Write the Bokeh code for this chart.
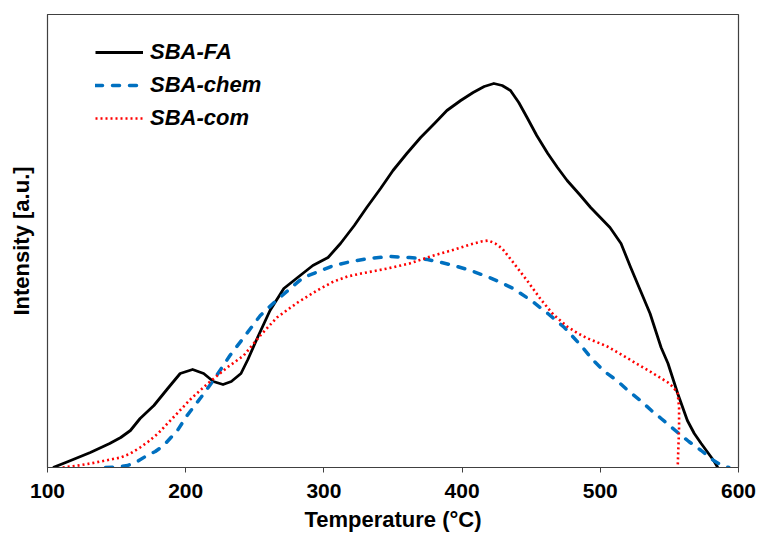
from bokeh.plotting import figure
from bokeh.models import Range1d, FixedTicker, Legend, LegendItem
from bokeh.embed import file_html
from bokeh.resources import INLINE

# SBA-FA (black solid)
fa_t = [104, 115, 131, 145, 153, 160, 167, 177, 187, 196, 205, 213, 220, 227, 233, 240, 245, 252, 261, 271,
        281, 292, 303, 312, 322, 331, 341, 350, 360, 370, 380, 389, 399, 408, 416, 423, 429, 435, 441, 447,
        454, 462, 469, 476, 485, 493, 500, 507, 515, 522, 529, 536, 544, 549, 556, 563, 568, 573, 582, 585]
fa_i = [0, 6, 15, 24, 30, 37, 49, 62, 79, 94, 98, 94, 86, 83, 86, 94, 108, 130, 157, 179,
        190, 202, 210, 224, 242, 260, 279, 297, 314, 330, 344, 357, 367, 375, 381, 384, 382, 377, 365, 350,
        332, 314, 300, 287, 273, 260, 250, 240, 224, 200, 177, 154, 120, 104, 74, 47, 34, 24, 7, 0]

# SBA-chem (blue dashed)
chem_t = [142, 150, 158, 165, 172, 178, 184, 194, 201, 211, 220, 232, 242, 254, 264, 274, 285, 298, 307, 320,
          332, 348, 362, 375, 385, 394, 406, 418, 428, 437, 450, 462, 474, 486, 495, 503, 512, 520, 529, 537,
          544, 556, 564, 573, 582, 588, 593]
chem_i = [0, 0.5, 2, 6, 12, 16, 22, 37, 52, 70, 87, 112, 130, 152, 165, 177, 190, 197, 202, 206,
          209, 211, 210, 208, 205, 202, 197, 191, 185, 179, 167, 154, 140, 122, 107, 96, 87, 77, 67, 57,
          49, 35, 26, 17, 7, 2, 0]

# SBA-com (red dotted)
com_t = [111, 120, 131, 142, 153, 160, 167, 173, 180, 191, 204, 216, 230, 242, 254, 266, 281, 295, 307, 317,
         327, 346, 362, 377, 392, 406, 414, 419, 424, 429, 437, 447, 457, 466, 476, 484, 491, 500, 505, 520,
         536, 549, 553, 556, 557, 557, 556.5, 556]
com_i = [0, 1.5, 4, 7, 10, 14, 20, 26, 34, 50, 69, 84, 100, 112, 132, 150, 165, 177, 186, 191,
         194, 199, 204, 211, 217, 223, 226, 227, 224, 219, 205, 187, 168, 153, 141, 134, 129, 124, 121, 109,
         96, 85, 80, 74, 60, 40, 20, 0]

x_ticks = [100, 200, 300, 400, 500, 600]
series_names = ["SBA-FA", "SBA-chem", "SBA-com"]

FONT = "Liberation Sans"

p = figure(width=758, height=539, output_backend="svg", toolbar_location=None,
           x_range=Range1d(100, 600), y_range=Range1d(0, 453),
           min_border_left=47, min_border_right=20, min_border_top=14, min_border_bottom=72)

p.grid.visible = False
p.outline_line_color = "#404040"
p.outline_line_width = 1.2
p.background_fill_color = "white"
p.border_fill_color = "white"

r1 = p.line(fa_t, fa_i, line_color="black", line_width=2.8, line_join="round")
r2 = p.line(chem_t, chem_i, line_color="#0070C0", line_width=3.5, line_dash="7 10", line_cap="round")
r3 = p.line(com_t, com_i, line_color="#FF0000", line_width=2.6, line_dash="2 3")

xa = p.xaxis[0]
xa.ticker = FixedTicker(ticks=x_ticks)
xa.minor_tick_line_color = None
xa.major_tick_in = 0
xa.major_tick_out = 5
xa.major_tick_line_color = "#404040"
xa.axis_line_color = "#404040"
xa.major_label_text_font = FONT
xa.major_label_text_font_style = "bold"
xa.major_label_text_font_size = "21px"
xa.major_label_text_color = "black"
xa.major_label_standoff = 11
xa.axis_label = "Temperature (°C)"
xa.axis_label_text_font = FONT
xa.axis_label_text_font_style = "bold"
xa.axis_label_text_font_size = "22px"
xa.axis_label_text_color = "black"
xa.axis_label_standoff = 6

ya = p.yaxis[0]
ya.ticker = FixedTicker(ticks=[])
ya.minor_tick_line_color = None
ya.major_tick_out = 0
ya.major_tick_in = 0
ya.axis_line_color = "#404040"
ya.axis_label = "Intensity [a.u.]"
ya.axis_label_text_font = FONT
ya.axis_label_text_font_style = "bold"
ya.axis_label_text_font_size = "22px"
ya.axis_label_text_color = "black"
ya.axis_label_standoff = 14

legend = Legend(items=[LegendItem(label=series_names[0], renderers=[r1]),
                       LegendItem(label=series_names[1], renderers=[r2]),
                       LegendItem(label=series_names[2], renderers=[r3])],
                location=(48, 336), orientation="vertical")
legend.glyph_width = 48
legend.glyph_height = 24
legend.label_height = 24
legend.spacing = 7
legend.padding = 0
legend.margin = 0
legend.label_standoff = 7
legend.border_line_alpha = 0
legend.background_fill_alpha = 0
legend.label_text_font = FONT
legend.label_text_font_style = "bold italic"
legend.label_text_font_size = "22px"
legend.label_text_color = "black"
p.add_layout(legend)

open("out.html", "w").write(file_html(p, INLINE))
